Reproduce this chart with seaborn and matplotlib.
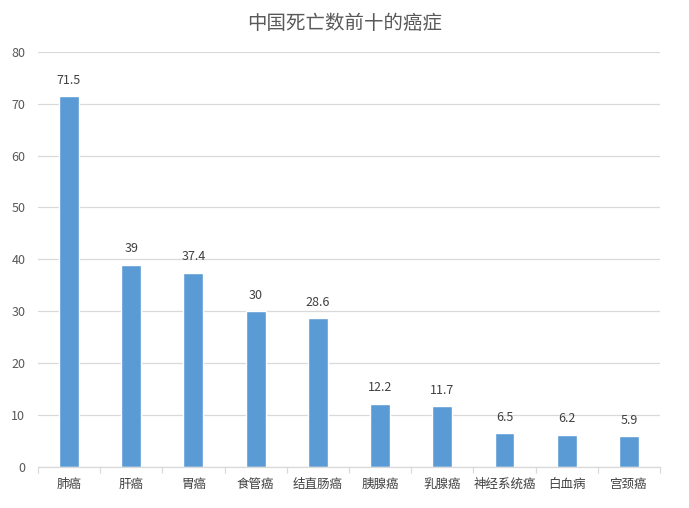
import pandas as pd
import seaborn as sns
import matplotlib
matplotlib.use("Agg")
import matplotlib.pyplot as plt

cancers = ["肺癌", "肝癌", "胃癌", "食管癌", "结直肠癌", "胰腺癌", "乳腺癌", "神经系统癌", "白血病", "宫颈癌"]
deaths = [71.5, 39, 37.4, 30, 28.6, 12.2, 11.7, 6.5, 6.2, 5.9]
value_labels = ["71.5", "39", "37.4", "30", "28.6", "12.2", "11.7", "6.5", "6.2", "5.9"]

df = pd.DataFrame({"cancer": cancers, "deaths": deaths})

sns.set_theme(style="white")
plt.rcParams["font.family"] = ["Noto Sans CJK SC", "DejaVu Sans"]

fig = plt.figure(figsize=(6.89, 5.08), dpi=100)
ax = fig.add_axes([0.055, 0.081, 0.903, 0.817])

sns.barplot(data=df, x="cancer", y="deaths", color="#5B9BD5", saturation=1,
            width=0.32, ax=ax)

ax.set_ylim(0, 80)
ax.set_yticks(range(0, 81, 10))
ax.set_xlim(-0.5, len(cancers) - 0.5)
ax.yaxis.grid(True, color="#D9D9D9", linewidth=0.9)
ax.set_axisbelow(True)
for s in ["top", "right", "left"]:
    ax.spines[s].set_visible(False)
ax.spines["bottom"].set_color("#D9D9D9")
ax.spines["bottom"].set_linewidth(0.9)

# excel-style ticks between categories
ax.set_xticks([i + 0.5 for i in range(-1, len(cancers))], minor=True)
ax.tick_params(axis="x", which="minor", length=4, color="#D9D9D9", width=0.9, bottom=True)
ax.tick_params(axis="x", which="major", length=0, labelsize=9, colors="#404040", pad=8)
ax.tick_params(axis="y", length=0, labelsize=9, colors="#595959", pad=9)

ax.set_xlabel("")
ax.set_ylabel("")

for i, (v, lab) in enumerate(zip(deaths, value_labels)):
    ax.text(i, v + 1.8, lab, ha="center", va="bottom", fontsize=9, color="#404040")

fig.suptitle("中国死亡数前十的癌症", y=0.975, fontsize=14, color="#595959")

fig.savefig("out.png", dpi=100)
